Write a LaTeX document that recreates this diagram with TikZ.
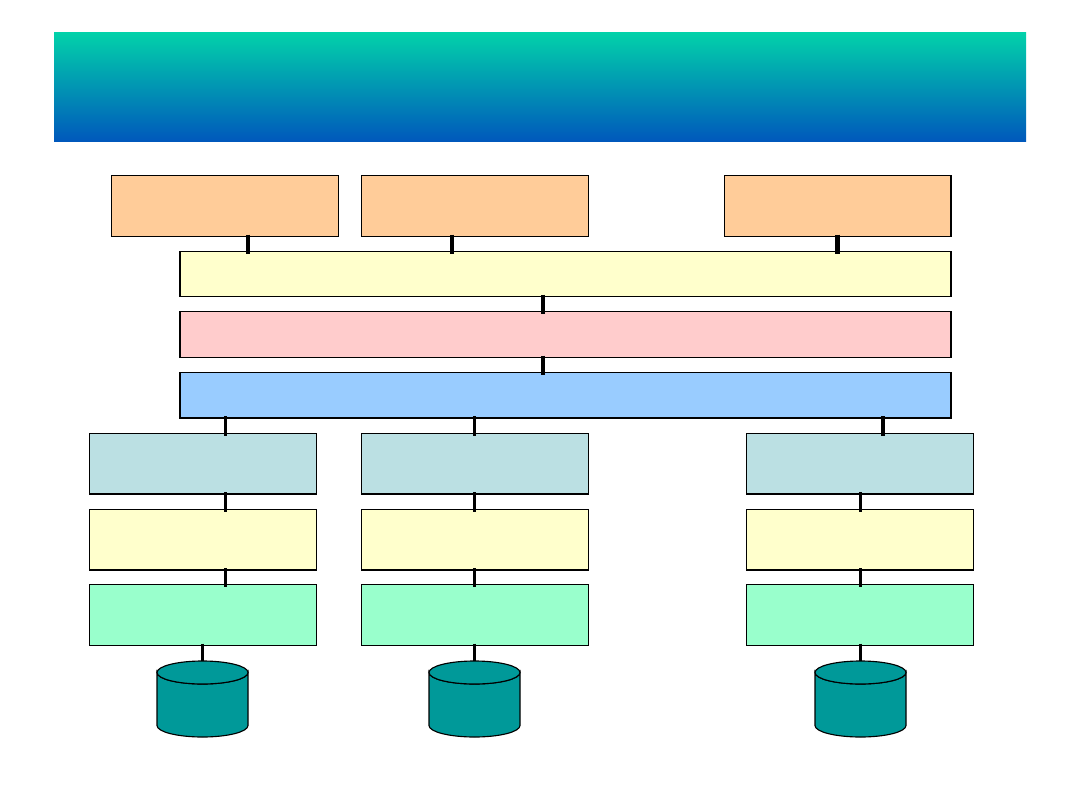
\documentclass[tikz,border=0pt]{standalone}
\definecolor{bandtop}{HTML}{02D2AA}
\definecolor{bandbot}{HTML}{0058BC}
\definecolor{peach}{HTML}{FFCC99}
\definecolor{cream}{HTML}{FFFFCC}
\definecolor{rose}{HTML}{FFCCCC}
\definecolor{sky}{HTML}{99CCFF}
\definecolor{ice}{HTML}{BBE0E3}
\definecolor{mint}{HTML}{99FFCC}
\definecolor{drum}{HTML}{009999}
\tikzset{
  blockbox/.style={draw=black,line width=0.95pt,inner sep=0pt,outer sep=0pt,anchor=north west},
  link/.style={draw=black,line width=2.3pt,shorten >=-1.5pt,shorten <=-1.5pt},
  midlink/.style={link,line width=3pt},
  widelink/.style={link,line width=3.75pt},
  drumline/.style={draw=black,line width=0.85pt,fill=drum}
}
\newcommand{\blockat}[6]{% name, fill, left, top, right, bottom
  \node[blockbox,fill=#2,minimum width={(#5-#3)*0.75pt},minimum height={(#6-#4)*0.75pt}] (#1) at (#3,#4) {};}
% storage drum: name, centre x; exposes a coordinate on its top rim
\newcommand{\drumat}[2]{%
  \path[drumline] (#2-45.5,672.5) -- (#2-45.5,725.5) arc[x radius=45.5,y radius=-11.5,start angle=180,end angle=360]
     -- (#2+45.5,672.5) arc[x radius=45.5,y radius=11.5,start angle=0,end angle=180] -- cycle;
  \path[drumline] (#2,672.5) ellipse[x radius=45.5,y radius=11.5];
  \coordinate (#1) at (#2,661);}
\begin{document}
\begin{tikzpicture}[x=0.75pt,y=-0.75pt]
\useasboundingbox (0,0) rectangle (1080,810);

% title band
\node[anchor=north west,minimum width=729pt,minimum height=82pt,inner sep=0pt,outer sep=0pt,
  top color=bandtop,bottom color=bandbot,draw=none] (band) at (54,32) {};

% client boxes
\blockat{ca}{peach}{111.5}{175.5}{338.5}{236.5}
\blockat{cb}{peach}{361.5}{175.5}{588.5}{236.5}
\blockat{cc}{peach}{724.5}{175.5}{951}{236.5}

% shared layers
\blockat{la}{cream}{180}{251.5}{951}{296.5}
\blockat{lb}{rose}{180}{311.5}{951}{357.5}
\blockat{lc}{sky}{180}{372.5}{951}{418}

% three columns of stacked blocks
\blockat{ua}{ice}{89.5}{433.5}{316.5}{494}
\blockat{ub}{ice}{361.5}{433.5}{588.5}{494}
\blockat{uc}{ice}{746.5}{433.5}{973.5}{494}
\blockat{va}{cream}{89.5}{509.5}{316.5}{570}
\blockat{vb}{cream}{361.5}{509.5}{588.5}{570}
\blockat{vc}{cream}{746.5}{509.5}{973.5}{570}
\blockat{wa}{mint}{89.5}{584.5}{316.5}{645.5}
\blockat{wb}{mint}{361.5}{584.5}{588.5}{645.5}
\blockat{wc}{mint}{746.5}{584.5}{973.5}{645.5}

% storage drums
\drumat{da}{202.5}
\drumat{db}{474.5}
\drumat{dc}{860.5}

% vertical guides for the connectors
\coordinate (xa) at (248,0);
\coordinate (xb) at (452,0);
\coordinate (xc) at (837,0);
\coordinate (xm) at (543,0);
\coordinate (xl) at (225.5,0);
\coordinate (xr) at (883,0);
\coordinate (xd) at (474.5,0);
\coordinate (xe) at (860.5,0);

\draw[midlink] (ca.south -| xa) -- (la.north -| xa);
\draw[midlink] (cb.south -| xb) -- (la.north -| xb);
\draw[widelink] (cc.south -| xc) -- (la.north -| xc);
\draw[midlink] (la.south -| xm) -- (lb.north -| xm);
\draw[midlink] (lb.south -| xm) -- (lc.north -| xm);
\draw[link] (lc.south -| xl) -- (ua.north -| xl);
\draw[link] (lc.south -| xd) -- (ub.north -| xd);
\draw[midlink] (lc.south -| xr) -- (uc.north -| xr);
\draw[link] (ua.south -| xl) -- (va.north -| xl);
\draw[link] (ub.south -| xd) -- (vb.north -| xd);
\draw[link] (uc.south -| xe) -- (vc.north -| xe);
\draw[link] (va.south -| xl) -- (wa.north -| xl);
\draw[link] (vb.south -| xd) -- (wb.north -| xd);
\draw[link] (vc.south -| xe) -- (wc.north -| xe);
\draw[link,shorten >=0pt] (wa.south -| da) -- (da);
\draw[link,shorten >=0pt] (wb.south -| db) -- (db);
\draw[link,shorten >=0pt] (wc.south -| dc) -- (dc);
\end{tikzpicture}
\end{document}
